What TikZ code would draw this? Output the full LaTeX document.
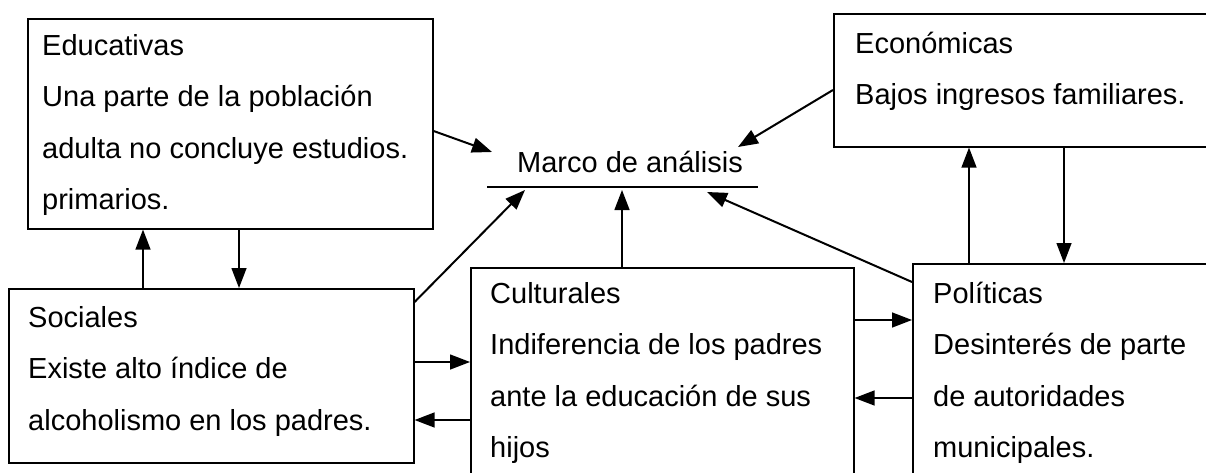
\documentclass[tikz,border=0pt]{standalone}
\usepackage{fontspec}
\setmainfont{Liberation Sans}
\usetikzlibrary{arrows.meta}
\begin{document}
\begin{tikzpicture}[x=1pt,y=-1pt,
  box/.style={draw, line width=1.6pt, rectangle, inner sep=0pt, anchor=north west},
  txt/.style={anchor=north west, inner sep=0pt, align=left, font=\fontsize{29}{51.5}\selectfont},
  conn/.style={line width=1.4pt, -{Triangle[length=20pt,width=15pt]}},
  diag/.style={conn, line width=2pt},
]
\useasboundingbox[fill=white] (0,0) rectangle (1206,473);
% boxes
\node[box, minimum width=405pt, minimum height=210pt] (edu) at (27,18) {};
\node[box, minimum width=382pt, minimum height=133pt] (eco) at (833,13) {};
\node[box, minimum width=405pt, minimum height=174pt] (soc) at (8,288) {};
\node[box, minimum width=383pt, minimum height=218pt] (cul) at (470,267) {};
\node[box, minimum width=303pt, minimum height=222pt] (pol) at (912,263) {};
% texts
\node[txt] (edut) at (42,19) {\strut Educativas\\Una parte de la población\\adulta no concluye estudios.\\primarios.};
\node[txt] (ecot) at (855,17) {\strut Económicas\\Bajos ingresos familiares.};
\node[txt] (soct) at (28,291) {\strut Sociales\\Existe alto índice de\\alcoholismo en los padres.};
\node[txt] (cult) at (490,267) {\strut Culturales\\Indiferencia de los padres\\ante la educación de sus\\hijos};
\node[txt] (polt) at (933,267) {\strut Políticas\\Desinterés de parte\\de autoridades\\municipales.};
% centre
\node[anchor=base west, inner sep=0pt, font=\fontsize{29}{34}\selectfont] (marco) at (517,172) {Marco de análisis};
\coordinate (ul) at (487,187);
\coordinate (ur) at (758,187);
\draw[line width=1.8pt] (ul) -- (ur);
\coordinate (mEdu) at (492,152);
\coordinate (mEco) at (738,147);
\coordinate (mSoc) at (525,190);
\coordinate (mCul) at (622,190);
\coordinate (mPol) at (707,192);
% arrows to centre
\draw[diag] ([yshift=-113pt]edu.north east) -- (mEdu);
\draw[diag] ([yshift=-77pt]eco.north west) -- (mEco);
\draw[diag] ([yshift=-14pt]soc.north east) -- (mSoc);
\draw[conn] ([xshift=152pt]cul.north west) -- (mCul);
\draw[diag] ([yshift=-19pt]pol.north west) -- (mPol);
% vertical pairs
\draw[conn] ([xshift=135pt]soc.north west) -- ([xshift=116pt]edu.south west);
\draw[conn] ([xshift=212pt]edu.south west) -- ([xshift=231pt]soc.north west);
\draw[conn] ([xshift=57pt]pol.north west) -- ([xshift=136pt]eco.south west);
\draw[conn] ([xshift=231pt]eco.south west) -- ([xshift=152pt]pol.north west);
% horizontal pairs
\draw[conn] ([yshift=-74pt]soc.north east) -- ([yshift=-95pt]cul.north west);
\draw[conn] ([yshift=-153pt]cul.north west) -- ([yshift=-132pt]soc.north east);
\draw[conn] ([yshift=-53pt]cul.north east) -- ([yshift=-57pt]pol.north west);
\draw[conn] ([yshift=-135pt]pol.north west) -- ([yshift=-131pt]cul.north east);
\end{tikzpicture}
\end{document}
